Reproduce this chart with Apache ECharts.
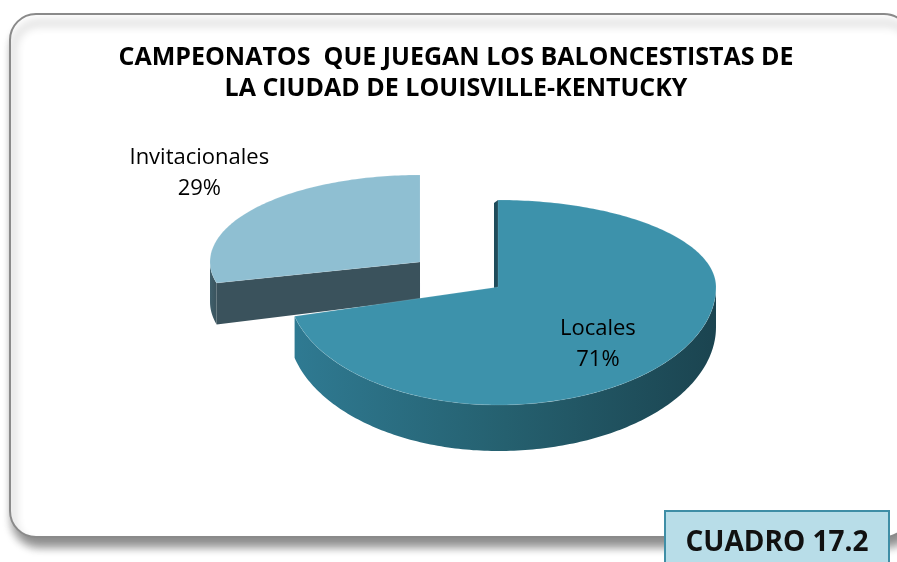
<!DOCTYPE html>
<html>
<head>
<meta charset="utf-8">
<script src="https://cdn.jsdelivr.net/npm/echarts@6/dist/echarts.min.js"></script>
<style>
  html, body { margin: 0; padding: 0; background: #fff; }
  #chart { width: 897px; height: 562px; }
</style>
</head>
<body>
<div id="chart"></div>
<script>
// datos del grafico
var categories = ['Invitacionales', 'Locales'];
var values = [29, 71];
var titleLines = ['CAMPEONATOS  QUE JUEGAN LOS BALONCESTISTAS DE', 'LA CIUDAD DE LOUISVILLE-KENTUCKY'];
var badge = 'CUADRO 17.2';

var total = values.reduce(function (a, b) { return a + b; }, 0);

/* geometria de la torta 3D */
var CX = 498, CY = 287;
var RX_L = 210, RX_R = 218, RY_T = 87, RY_B = 118;
var START = 90;                 // grados, sentido antihorario
var explode = [0.47, 0];        // separacion de cada porcion
var FONT = "'Open Sans', sans-serif";

var topColors = ['#8fbfd2', '#3d92ab'];
var cutColors = ['#3a525c', '#2a6a80'];
var wallColors = [
  ['#40606c', '#3a535d'],
  ['#2f7a92', '#25606f', '#1b4450']
];

function thick(a) {
  return 40 - 6 * Math.sin(a * Math.PI / 180);
}

function pt(a, ox, oy, down, flat) {
  var r = a * Math.PI / 180, c = Math.cos(r), s = Math.sin(r);
  var x = ox + c * (c >= 0 ? RX_R : RX_L);
  var y = oy - s * (s >= 0 ? RY_T : RY_B * (flat || 1));
  if (down) y += thick(a);
  return [x, y];
}

function arc(a0, a1, ox, oy, down, flat) {
  var pts = [];
  var n = Math.max(2, Math.ceil(Math.abs(a1 - a0)));
  for (var i = 0; i <= n; i++) {
    pts.push(pt(a0 + (a1 - a0) * i / n, ox, oy, down, flat));
  }
  return pts;
}

function renderItem(params, api) {
  var idx = params.dataIndex;
  var before = 0;
  for (var i = 0; i < idx; i++) before += values[i];
  var v = api.value(0);
  var a0 = START + before / total * 360;
  var a1 = START + (before + v) / total * 360;
  var mid = (a0 + a1) / 2;

  var m = mid * Math.PI / 180;
  var ex = explode[idx];
  var ox = CX + Math.cos(m) * (Math.cos(m) >= 0 ? RX_R : RX_L) * ex;
  var oy = CY - Math.sin(m) * (Math.sin(m) >= 0 ? RY_T : RY_B) * ex;
  // la porcion separada queda mas atras: algo mas achatada por delante
  var flat = ex > 0 ? 0.72 : 1;

  var children = [];

  // pared exterior visible (frente, entre 180 y 360 grados)
  for (var k = 0; k < 2; k++) {
    var w0 = Math.max(a0, 180 + 360 * k), w1 = Math.min(a1, 360 + 360 * k);
    if (w1 > w0) {
      var top = arc(w0, w1, ox, oy, false, flat);
      var bot = arc(w0, w1, ox, oy, true, flat).reverse();
      var stops = wallColors[idx].map(function (c, j, arr) {
        return { offset: j / (arr.length - 1), color: c };
      });
      children.push({
        type: 'polygon',
        shape: { points: top.concat(bot) },
        style: { fill: new echarts.graphic.LinearGradient(0, 0, 1, 0, stops) }
      });
    }
  }

  // cara de corte al final de la porcion (si mira al frente)
  var n1 = (a1 + 90) % 360;
  if (Math.sin(n1 * Math.PI / 180) < 0) {
    var rim = pt(a1, ox, oy, false, flat), rimB = pt(a1, ox, oy, true, flat);
    children.push({
      type: 'polygon',
      shape: { points: [[ox, oy], rim, rimB, [ox, oy + thick(a1) - 4]] },
      style: { fill: cutColors[idx] }
    });
  }
  // canto oscuro en el corte a las 12
  if (a1 % 360 === START % 360 && explode[idx] === 0) {
    var p90 = pt(a1, ox, oy, false);
    children.push({
      type: 'polygon',
      shape: { points: [[ox, oy], p90, [p90[0] - 4, p90[1] + 3], [ox - 4, oy + 3]] },
      style: { fill: '#1f4c5b' }
    });
  }

  // cara superior
  children.push({
    type: 'polygon',
    shape: { points: [[ox, oy]].concat(arc(a0, a1, ox, oy, false, flat)) },
    style: { fill: topColors[idx], stroke: 'rgba(255,255,255,0.12)', lineWidth: 1 }
  });

  // etiqueta
  var pct = Math.round(v / total * 100) + '%';
  var lx, ly, va;
  var lp = pt(mid, ox, oy, false, flat);
  if (ex > 0) {
    lx = ox + (lp[0] - ox) * 1.33;
    ly = oy + (lp[1] - oy) * 1.33 + 13;
    va = 'bottom';
  } else {
    lx = ox + (lp[0] - ox) * 0.58;
    ly = oy + (lp[1] - oy) * 0.58 + 15;
    va = 'middle';
  }
  children.push({
    type: 'text',
    x: lx, y: ly,
    style: {
      text: categories[idx] + '\n' + pct,
      align: 'center', verticalAlign: va,
      fontSize: 22, lineHeight: 31,
      fontFamily: FONT,
      fill: '#000'
    }
  });

  return { type: 'group', children: children };
}

var chart = echarts.init(document.getElementById('chart'));
var option = {
  animation: false,
  graphic: [{
    type: 'rect', z: -10,
    shape: { x: 10, y: 14, width: 900, height: 523, r: 26 },
    style: {
      fill: '#fff', stroke: '#8a8a8a', lineWidth: 2,
      shadowBlur: 10, shadowOffsetY: 9, shadowOffsetX: 3,
      shadowColor: 'rgba(0,0,0,0.45)'
    }
  }, {
    type: 'text', z: 10,
    x: 456, y: 73,
    style: {
      text: titleLines.join('\n'),
      align: 'center', verticalAlign: 'middle',
      fontSize: 25, fontWeight: 'bold', lineHeight: 31,
      fontFamily: FONT, fill: '#000'
    }
  }, {
    type: 'rect', z: 20,
    shape: { x: 665, y: 511, width: 224, height: 70 },
    style: { fill: '#b8dde8', stroke: '#3f8ea6', lineWidth: 2 }
  }, {
    type: 'text', z: 21,
    x: 777, y: 543,
    style: {
      text: badge, align: 'center', verticalAlign: 'middle',
      fontSize: 28, fontWeight: 'bold', fontFamily: FONT, fill: '#111'
    }
  }],
  series: [{
    type: 'custom',
    coordinateSystem: 'none',
    renderItem: renderItem,
    data: values.map(function (v, i) { return { name: categories[i], value: [v] }; })
  }]
};
chart.setOption(option);
</script>
</body>
</html>
